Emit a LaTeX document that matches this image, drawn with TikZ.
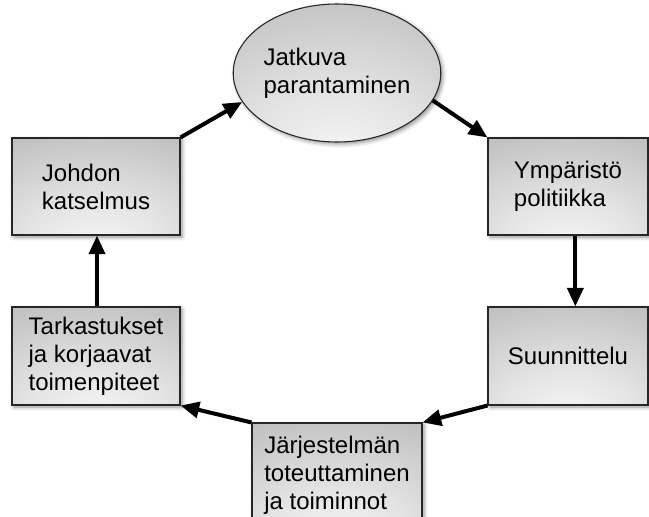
\documentclass[tikz,border=0pt]{standalone}
\usepackage{fontspec}
\setmainfont{Liberation Sans}
\usetikzlibrary{arrows.meta,shadows.blur,shapes.geometric}

\definecolor{shadelight}{gray}{0.97}
\definecolor{shadedark}{gray}{0.72}
\pgfdeclareradialshading{boxshade}{\pgfpoint{0bp}{-34bp}}{%
  color(0bp)=(shadelight); color(20bp)=(shadelight!70!shadedark);
  color(55bp)=(shadedark); color(100bp)=(shadedark)}

\tikzset{
  stage/.style={draw=black!85, line width=0.8pt, shading=boxshade,
    rectangle, inner sep=0pt, align=left,
    font=\fontsize{18}{21}\selectfont,
    blur shadow={shadow xshift=1.5pt, shadow yshift=-1.5pt,
      shadow blur radius=3pt, shadow opacity=45}},
  goal/.style={stage, ellipse},
  flow/.style={line width=3pt, -{Triangle[length=14pt,width=12pt]}}
}

\begin{document}
\begin{tikzpicture}[x=0.75pt, y=-0.75pt]
  \useasboundingbox (0,0) rectangle (649,517);
  \begin{scope}
    \clip (0,0) rectangle (649,517);
    % improvement cycle
    \node[goal, minimum width=151.5pt, minimum height=103.5pt] (jat) at (337,73)
      {Jatkuva\\parantaminen};
    \node[stage, minimum width=120pt, minimum height=72.75pt] (ymp) at (568,186.5)
      {Ympäristö\\politiikka};
    \node[stage, minimum width=120pt, minimum height=73.5pt] (suu) at (568,356)
      {Suunnittelu};
    \node[stage, minimum width=127.5pt, minimum height=78pt] (jar) at (337,475)
      {Järjestelmän\\toteuttaminen\\ja toiminnot};
    \node[stage, minimum width=126pt, minimum height=73.5pt] (tar) at (96,356)
      {Tarkastukset\\ja korjaavat\\toimenpiteet};
    \node[stage, minimum width=126pt, minimum height=72.75pt] (joh) at (96,186.5)
      {Johdon\\katselmus};

    % arrows between stages
    \draw[flow] (joh.north east) -- (jat.197);
    \draw[flow] (jat.-16) -- (ymp.north west);
    \draw[flow] ([xshift=5.5pt]ymp.south) -- ([xshift=5.5pt]suu.north);
    \draw[flow] (suu.south west) -- (jar.north east);
    \draw[flow] (jar.north west) -- (tar.south east);
    \draw[flow] ([xshift=0.75pt]tar.north) -- ([xshift=0.75pt]joh.south);
  \end{scope}
\end{tikzpicture}
\end{document}
